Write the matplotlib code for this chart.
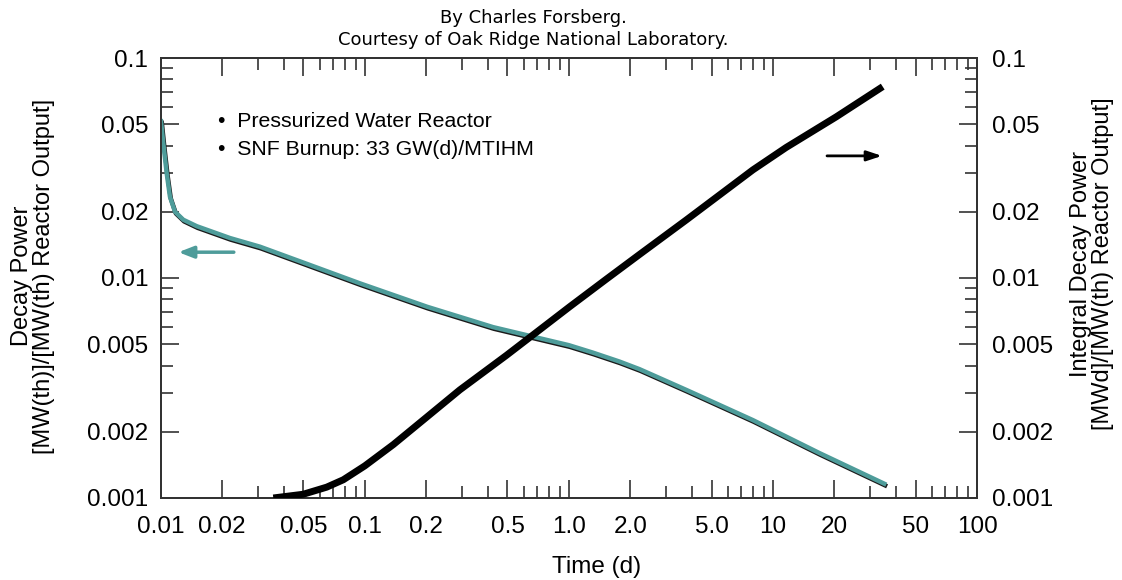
import matplotlib
matplotlib.use("Agg")
import matplotlib.pyplot as plt
import matplotlib.patheffects as pe
from matplotlib.ticker import FixedLocator, FixedFormatter, NullFormatter

# Decay power (left axis)
decay_t = [0.01, 0.01029, 0.01069, 0.01109, 0.01174, 0.01289, 0.0150, 0.0218,
           0.0306, 0.0538, 0.0945, 0.202, 0.425, 1.0, 1.31, 1.77, 2.22,
           3.76, 7.97, 16.9, 35.9]
decay_p = [0.0528, 0.0409, 0.0299, 0.0234, 0.0200, 0.0184, 0.0172, 0.0152,
           0.01388, 0.01146, 0.00946, 0.00740, 0.00598, 0.00495, 0.00458,
           0.00417, 0.00385, 0.00310, 0.00226, 0.00160, 0.00115]

# Integral decay power (right axis)
integ_t = [0.0356, 0.0499, 0.065, 0.0784, 0.1, 0.138, 0.202, 0.292, 0.494,
           1.01, 1.53, 2.22, 3.76, 7.97, 11.6, 20.4, 34.5]
integ_p = [0.00100, 0.00104, 0.00112, 0.00121, 0.00140, 0.00175, 0.00234,
           0.00310, 0.00445, 0.00741, 0.00990, 0.0128, 0.01836, 0.0310,
           0.0392, 0.0540, 0.0741]

x_ticks = [0.01, 0.02, 0.05, 0.1, 0.2, 0.5, 1.0, 2.0, 5.0, 10, 20, 50, 100]
x_labels = ['0.01', '0.02', '0.05', '0.1', '0.2', '0.5', '1.0', '2.0', '5.0',
            '10', '20', '50', '100']
y_ticks = [0.001, 0.002, 0.005, 0.01, 0.02, 0.05, 0.1]
y_labels = ['0.001', '0.002', '0.005', '0.01', '0.02', '0.05', '0.1']

x_minor = [m * d for d in (0.01, 0.1, 1, 10) for m in (3, 4, 6, 7, 8, 9)]
y_minor = [m * d for d in (0.001, 0.01) for m in (3, 4, 6, 7, 8, 9)]

teal = '#4e9c9a'
axis_col = '#333333'

plt.rcParams['font.family'] = ['Liberation Sans', 'DejaVu Sans']

fig = plt.figure(figsize=(11.22, 5.8), dpi=100)
ax = fig.add_axes([0.1433, 0.1414, 0.7275, 0.7586])
ax2 = ax.twinx()

for a in (ax, ax2):
    a.set_xscale('log')
    a.set_yscale('log')
    a.set_xlim(0.01, 100)
    a.set_ylim(0.001, 0.1)
    a.yaxis.set_major_locator(FixedLocator(y_ticks))
    a.yaxis.set_major_formatter(FixedFormatter(y_labels))
    a.yaxis.set_minor_locator(FixedLocator(y_minor))
    a.yaxis.set_minor_formatter(NullFormatter())
    a.tick_params(which='major', direction='in', length=13, width=1.2,
                  colors=axis_col, labelcolor='black', labelsize=17.5)
    a.tick_params(which='minor', direction='in', length=8.5, width=1.2,
                  colors=axis_col)
    a.tick_params(axis='y', which='major', pad=9)
    for s in a.spines.values():
        s.set_color(axis_col)
        s.set_linewidth(1.4)
ax2.tick_params(axis='y', which='major', pad=10.5)

ax.xaxis.set_major_locator(FixedLocator(x_ticks))
ax.xaxis.set_major_formatter(FixedFormatter(x_labels))
ax.xaxis.set_minor_locator(FixedLocator(x_minor))
ax.xaxis.set_minor_formatter(NullFormatter())
ax.tick_params(axis='x', which='both', top=True)
ax.tick_params(axis='x', which='major', pad=13)

ax.plot(decay_t, decay_p, color=teal, lw=3.2, solid_capstyle='butt',
        solid_joinstyle='round', zorder=3,
        path_effects=[pe.SimpleLineShadow(offset=(0.6, -1.2), shadow_color='#1a1a1a', alpha=1.0),
                      pe.Normal()])
ax2.plot(integ_t, integ_p, color='black', lw=5, solid_capstyle='butt',
         solid_joinstyle='round', zorder=3)

ax.annotate('', xy=(0.0122, 0.0131), xytext=(0.0228, 0.0131),
            arrowprops=dict(arrowstyle='-|>,head_length=0.9,head_width=0.35',
                            color=teal, lw=2.5, shrinkA=0, shrinkB=0))
ax2.annotate('', xy=(34.2, 0.0359), xytext=(18.4, 0.0359),
             arrowprops=dict(arrowstyle='-|>,head_length=0.9,head_width=0.3',
                             color='black', lw=2, shrinkA=0, shrinkB=0))

ax.text(0.0190, 0.0512, '\u2022  Pressurized Water Reactor', fontsize=15.3, va='center')
ax.text(0.0190, 0.0382, '\u2022  SNF Burnup: 33 GW(d)/MTIHM', fontsize=15.3, va='center')

fig.text(0.532, 0.0224, 'Time (d)', fontsize=17.5, ha='center', va='center')
fig.text(0.0294, 0.524, 'Decay Power\n[MW(th)]/[MW(th) Reactor Output]', fontsize=17,
         rotation=90, ha='center', va='center', multialignment='center', linespacing=1.05)
fig.text(0.9733, 0.545, 'Integral Decay Power\n[MWd]/[MW(th) Reactor Output]', fontsize=17,
         rotation=90, ha='center', va='center', multialignment='center', linespacing=1.05)

fig.text(0.475, 1 - 18 / 580, 'By Charles Forsberg.', ha='center', va='center',
         fontsize=13, family='DejaVu Sans')
fig.text(0.475, 1 - 40 / 580, 'Courtesy of Oak Ridge National Laboratory.', ha='center',
         va='center', fontsize=13, family='DejaVu Sans')

fig.savefig('out.png', dpi=100)
